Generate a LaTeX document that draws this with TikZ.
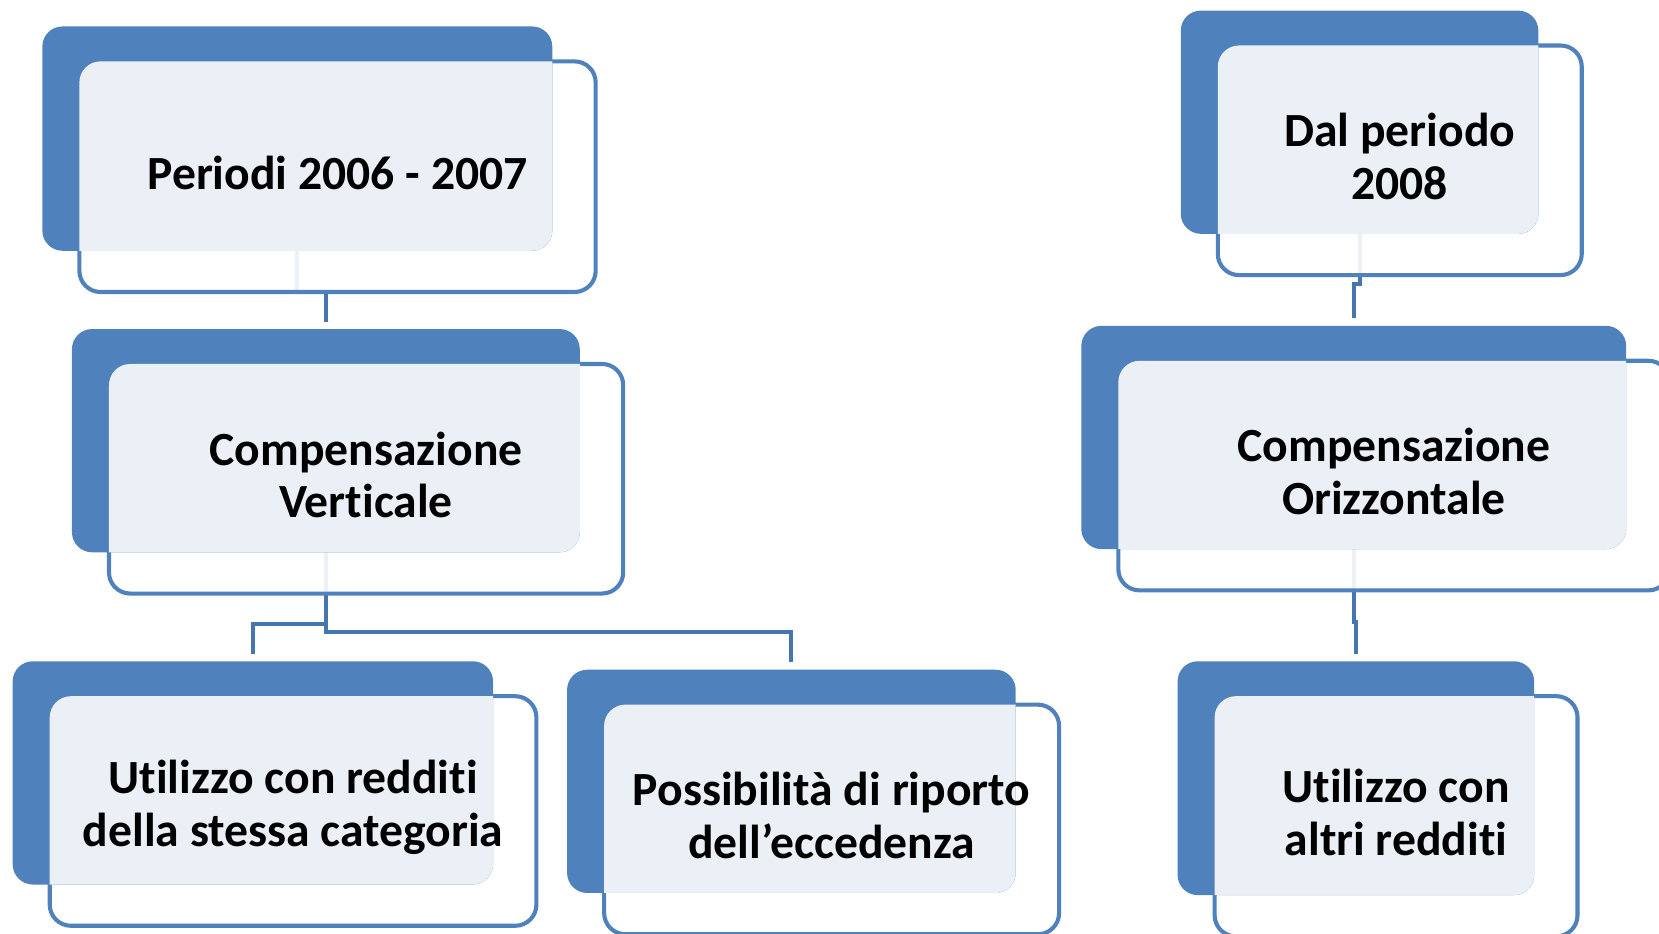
\documentclass[tikz,border=0pt]{standalone}
\usepackage{fontspec}
\setmainfont{Carlito}[Ligatures=NoCommon]
\usetikzlibrary{positioning, backgrounds}
\definecolor{tierBlue}{RGB}{79,129,189}
\definecolor{tierLink}{RGB}{70,118,176}
\definecolor{tierPale}{RGB}{235,240,247}

\tikzset{
  backbox/.style={rectangle, rounded corners=0.19cm, fill=tierBlue, inner sep=0pt, outer sep=0pt},
  frontbox/.style={rectangle, rounded corners=0.2cm, draw=tierBlue, line width=1.1pt, fill=white, fill opacity=0.9, inner sep=0pt, outer sep=0pt},
  boxtext/.style={align=center, font=\fontsize{12.8}{14.2}\selectfont\bfseries},
  link/.style={draw=tierLink, line width=1.1pt, shorten >=2pt},
}

\begin{document}
\begin{tikzpicture}[x=0.01cm, y=-0.01cm]
    \useasboundingbox (0,0) rectangle (1568,882);

    % name / x / y / width / height / text
    \foreach \nm/\x/\y/\w/\h/\txt in {
        per/40/25/482/212/{Periodi 2006 - 2007},
        ver/68/311/480/211/{Compensazione\\Verticale},
        ute/12/625/454/211/{Utilizzo con redditi\\della stessa categoria},
        pos/536/633/424/211/{Possibilità di riporto\\dell’eccedenza},
        dal/1116/10/338/211/{Dal periodo\\2008},
        ori/1022/308/515/211/{Compensazione\\Orizzontale},
        alt/1113/625/337/221/{Utilizzo con\\altri redditi}}{
        \node[frontbox, minimum width=(\w+6)*0.01cm, minimum height=(\h+6)*0.01cm]
            (\nm-f) at ({\x+35+(\w+6)/2}, {\y+33+(\h+6)/2}) {};
        \node[backbox, minimum width=\w*0.01cm, minimum height=\h*0.01cm]
            (\nm-b) at ({\x+\w/2}, {\y+\h/2}) {};
        \begin{scope}
            \clip[rounded corners=0.2cm] (\nm-f.south west) rectangle (\nm-f.north east);
            \fill[tierPale, rounded corners=0.19cm] (\nm-b.south west) rectangle (\nm-b.north east);
        \end{scope}
        \node[boxtext] (\nm-t) at ([yshift=1pt]\nm-f) {\txt};
    }

    \begin{pgfonlayer}{background}
        \draw[link] (per-b.south) -- (per-b.south |- per-f.south) -| (ver-b.north);
        \draw[link] (ver-b.south) -- ++(0,68) -| (ute-b.north);
        \draw[link] (ver-b.south) -- ++(0,75) -| (pos-b.north);
        \draw[link] (dal-b.south) -- ++(0,47) -| (ori-b.north);
        \draw[link] (ori-b.south) -- ++(0,69) -| (alt-b.north);
    \end{pgfonlayer}
\end{tikzpicture}
\end{document}
